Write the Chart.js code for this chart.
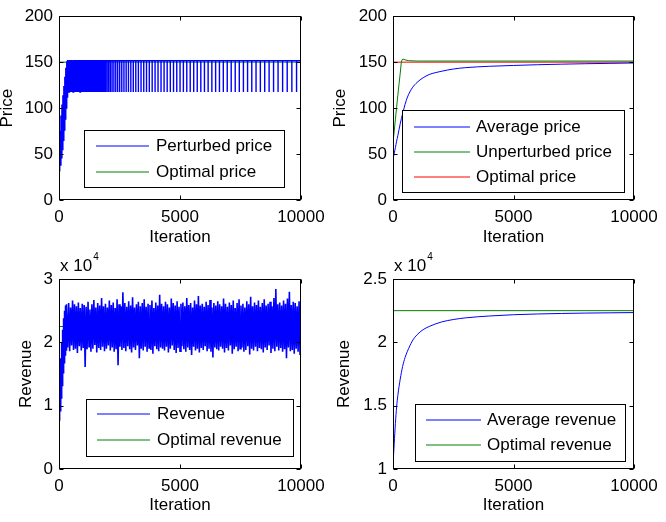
<!DOCTYPE html>
<html><head><meta charset="utf-8">
<script src="https://cdn.jsdelivr.net/npm/chart.js@4.4.0/dist/chart.umd.min.js"></script>
<style>
html,body{margin:0;padding:0;background:#fff;width:666px;height:522px;overflow:hidden}
canvas{position:absolute}
</style></head><body>
<canvas id="c1" width="333" height="261" style="left:0;top:0"></canvas>
<canvas id="c2" width="333" height="261" style="left:333px;top:0"></canvas>
<canvas id="c3" width="333" height="272" style="left:0;top:250px"></canvas>
<canvas id="c4" width="333" height="272" style="left:333px;top:250px"></canvas>
<script>
// ---------- tick labels ----------
const iterTicks=[0,5000,10000];
const iterTickLabels=['0','5000','10000'];
const priceTicks=[0,50,100,150,200];
const priceTickLabels=['0','50','100','150','200'];
const revATicks=[0,1,2,3];
const revATickLabels=['0','1','2','3'];
const revBTicks=[1,1.5,2,2.5];
const revBTickLabels=['1','1.5','2','2.5'];

// ---------- panel 1: perturbed price ----------
const ppRampIters=[0,40,80,120,160,200,240,280,320];
const ppRampUpper=[40,75,92,104,114,124,134,144,151];
const ppRampLower=[31,38,46,55,65,76,88,100,112];
const perturbedLevels=[151.5,117.5]; // base, perturbed
const spikeIters=[350,362,374,387,400,414,428,443,458,474,490,507,524,542,560,579,598,618,638,659,680,702,724,747,770,794,818,843,868,894,920,947,974,1002,1030,1059,1088,1118,1148,1179,1210,1242,1275,1309,1344,1380,1417,1455,1494,1534,1575,1618,1663,1710,1760,1813,1869,1928,1990,2055,2123,2194,2268,2345,2425,2508,2594,2683,2775,2870,2968,3069,3173,3280,3390,3502,3616,3732,3850,3970,4092,4216,4342,4470,4600,4732,4866,5002,5140,5280,5422,5566,5712,5860,6010,6162,6316,6472,6630,6790,6952,7116,7282,7450,7620,7792,7966,8142,8320,8500,8682,8866,9052,9240,9430,9622,9816];
const optimalPrice=[150];

// ---------- panel 2: average / unperturbed price ----------
const avgIters=[0,50,100,150,200,300,400,500,600,800,1000,1250,1500,2000,2500,3000,4000,5000,6000,7000,8000,9000,10000];
const avgPrice=[44,51,57,64,70,83,94,104,112,122,128,133,136.5,140,142.5,144,145.5,146.4,147.2,147.8,148.3,148.7,149.1];
const unpertIters=[0,50,100,150,200,250,300,345,380,420,500,650,1000,10000];
const unpertPrice=[63,75,88,101,114,126,138,150,152.8,153.3,152.5,151.6,151.2,151.2];

// ---------- panel 3: revenue (x 10^4) ----------
const revRampIters=[0,20,40,60,80,100,120,140,160,180,200,220,240,260,280,300];
const revRampHi=[0.95,1.2,1.4,1.6,1.75,1.9,2.0,2.1,2.2,2.3,2.38,2.45,2.5,2.55,2.58,2.6];
const revRampLo=[0.76,0.82,0.92,1.02,1.12,1.22,1.32,1.42,1.52,1.6,1.68,1.74,1.8,1.85,1.88,1.9];
const revBinStart=[320], revBinWidth=[80];
const revHi=[2.58,2.62,2.55,2.66,2.60,2.57,2.63,2.54,2.61,2.59,
2.56,2.64,2.52,2.60,2.67,2.55,2.62,2.58,2.70,2.57,
2.61,2.55,2.66,2.59,2.63,2.54,2.68,2.60,2.57,2.79,
2.62,2.56,2.65,2.58,2.71,2.55,2.60,2.64,2.57,2.62,
2.68,2.56,2.61,2.59,2.66,2.54,2.63,2.58,2.75,2.61,
2.57,2.64,2.60,2.55,2.69,2.62,2.58,2.65,2.56,2.61,
2.63,2.57,2.70,2.59,2.62,2.55,2.66,2.60,2.73,2.58,
2.61,2.56,2.64,2.59,2.67,2.55,2.62,2.58,2.65,2.60,
2.57,2.69,2.61,2.56,2.63,2.59,2.66,2.54,2.62,2.68,
2.58,2.61,2.55,2.65,2.60,2.72,2.57,2.63,2.59,2.66,
2.56,2.62,2.68,2.58,2.61,2.64,2.57,2.70,2.84,2.60,
2.63,2.58,2.66,2.61,2.69,2.80,2.59,2.64,2.62,2.57,2.65];
const revLo=[1.92,1.86,1.95,1.88,1.90,1.83,1.94,1.87,1.91,1.61,
1.89,1.93,1.85,1.90,1.96,1.84,1.91,1.88,1.93,1.86,
1.90,1.95,1.87,1.92,1.85,1.89,1.64,1.93,1.88,1.91,
1.86,1.94,1.89,1.84,1.92,1.88,1.95,1.75,1.90,1.87,
1.93,1.85,1.91,1.88,1.82,1.94,1.89,1.86,1.92,1.90,
1.87,1.93,1.84,1.90,1.95,1.88,1.83,1.91,1.86,1.94,
1.89,1.85,1.92,1.88,1.80,1.93,1.87,1.90,1.84,1.91,
1.88,1.94,1.86,1.90,1.85,1.76,1.92,1.89,1.87,1.93,
1.90,1.84,1.91,1.87,1.95,1.82,1.89,1.93,1.86,1.90,
1.92,1.85,1.88,1.94,1.81,1.90,1.87,1.93,1.86,1.91,
1.89,1.84,1.92,1.88,1.95,1.83,1.90,1.86,1.93,1.87,
1.91,1.85,1.89,1.75,1.92,1.86,1.88,1.82,1.90,1.85,1.80];
const optimalRevenue=[2.25];

// ---------- panel 4: average revenue (x 10^4) ----------
const avgRevenue=[1.03,1.2,1.36,1.49,1.58,1.71,1.81,1.88,1.93,2.01,2.06,2.1,2.125,2.16,2.18,2.193,2.208,2.218,2.224,2.228,2.231,2.233,2.235];

// ---------- colours ----------
const BLUE='#0000ff', GREEN='#008000', RED='#ff0000';
const FONT='"Liberation Sans", Arial, Helvetica, sans-serif';
Chart.defaults.font.family=FONT;
Chart.defaults.font.size=17;
Chart.defaults.color='#000';

// ---------- build point tables ----------
const pts=(xs,ys)=>xs.map((x,i)=>({x,y:ys[i]}));
const flat=(v)=>[{x:iterTicks[0],y:v},{x:iterTicks[iterTicks.length-1],y:v}];

const perturbedPts=[];
ppRampIters.forEach((it,i)=>{perturbedPts.push({x:it,y:ppRampUpper[i]},{x:it+20,y:ppRampLower[i]});});
spikeIters.forEach(s=>{perturbedPts.push({x:s-1,y:perturbedLevels[0]},{x:s,y:perturbedLevels[1]},{x:s+1,y:perturbedLevels[0]});});
perturbedPts.push({x:10000,y:perturbedLevels[0]});

const revenuePts=[];
revRampIters.forEach((it,i)=>{revenuePts.push({x:it,y:revRampHi[i]},{x:it+10,y:revRampLo[i]});});
revHi.forEach((h,i)=>{const x=revBinStart[0]+revBinWidth[0]*i; revenuePts.push({x,y:h},{x:x+revBinWidth[0]/2,y:revLo[i]});});

// ---------- plugins ----------
const legendCfg={
  c1:{box:[84,130,284,187],rows:[146,172],sx:[96,149],tx:156},
  c2:{box:[69,110,291,192],rows:[127,152,177],sx:[81,137],tx:143},
  c3:{box:[86,149,293,206],rows:[164,190],sx:[97,150],tx:157},
  c4:{box:[82,154,292,211],rows:[170,195],sx:[93,148],tx:154}
};
const expoCfg={c3:true,c4:true};

const boxLegend={id:'boxLegend',afterDatasetsDraw(chart){
  const o=legendCfg[chart.canvas.id]; if(!o) return;
  const ctx=chart.ctx; ctx.save();
  const [x0,y0,x1,y1]=o.box;
  ctx.fillStyle='#fff'; ctx.fillRect(x0,y0,x1-x0,y1-y0);
  ctx.strokeStyle='#000'; ctx.lineWidth=1; ctx.strokeRect(x0+0.5,y0+0.5,x1-x0,y1-y0);
  ctx.font='17px '+FONT; ctx.textBaseline='middle'; ctx.textAlign='left';
  chart.data.datasets.forEach((ds,i)=>{
    const y=o.rows[i];
    ctx.strokeStyle=ds.borderColor; ctx.lineWidth=1;
    ctx.beginPath(); ctx.moveTo(o.sx[0],y); ctx.lineTo(o.sx[1],y); ctx.stroke();
    ctx.fillStyle='#000'; ctx.fillText(ds.label,o.tx,y);
  });
  ctx.restore();
}};

const frame={id:'frame',afterDraw(chart){
  const ctx=chart.ctx,{left,right,top,bottom}=chart.chartArea;
  const L=Math.round(left)+0.5,R=Math.round(right)-0.5,T=Math.round(top)+0.5,B=Math.round(bottom)-0.5;
  ctx.save(); ctx.strokeStyle='#000'; ctx.lineWidth=1;
  ctx.strokeRect(L,T,R-L,B-T);
  const tl=4; ctx.beginPath();
  chart.scales.x.ticks.forEach(t=>{const p=Math.round(chart.scales.x.getPixelForValue(t.value))+0.5; ctx.moveTo(p,B); ctx.lineTo(p,B-tl); ctx.moveTo(p,T); ctx.lineTo(p,T+tl);});
  chart.scales.y.ticks.forEach(t=>{const p=Math.round(chart.scales.y.getPixelForValue(t.value))+0.5; ctx.moveTo(L,p); ctx.lineTo(L+tl,p); ctx.moveTo(R,p); ctx.lineTo(R-tl,p);});
  ctx.stroke();
  if(expoCfg[chart.canvas.id]){
    ctx.fillStyle='#000'; ctx.textAlign='left';
    ctx.font='17px '+FONT; ctx.textBaseline='middle';
    const x=Math.round(left)+1, s='x 10';
    ctx.fillText(s,x,16);
    const w=ctx.measureText(s).width;
    ctx.font='10px '+FONT; ctx.textBaseline='alphabetic';
    ctx.fillText('4',x+w+1,10);
  }
  ctx.restore();
}};

function makeChart(id,datasets,cfg){
  return new Chart(document.getElementById(id),{
    type:'line',
    data:{datasets},
    options:{
      responsive:false,animation:false,events:[],
      layout:{padding:{left:0,right:cfg.padR,top:cfg.padT,bottom:0}},
      elements:{point:{radius:0}},
      scales:{
        x:{type:'linear',min:0,max:10000,
          afterBuildTicks:s=>{s.ticks=iterTicks.map(v=>({value:v}));},
          afterFit:s=>{s.height=cfg.xH;},
          ticks:{padding:7,maxRotation:0,autoSkip:false,callback:v=>iterTickLabels[iterTicks.indexOf(v)]},
          grid:{display:false,drawTicks:false},border:{display:false},
          title:{display:true,text:'Iteration',font:{size:17,lineHeight:1},padding:{top:0,bottom:cfg.xTitlePad}}},
        y:{type:'linear',min:cfg.yMin,max:cfg.yMax,
          afterBuildTicks:s=>{s.ticks=cfg.yTicks.map(v=>({value:v}));},
          afterFit:s=>{s.width=cfg.yW;},
          ticks:{padding:6,autoSkip:false,callback:v=>cfg.yLabels[cfg.yTicks.indexOf(v)]},
          grid:{display:false,drawTicks:false},border:{display:false},
          title:{display:true,text:cfg.yTitle,font:{size:17,lineHeight:1},padding:{top:cfg.yTitlePad,bottom:0}}}
      },
      plugins:{legend:{display:false},tooltip:{enabled:false}}
    },
    plugins:[boxLegend,frame]
  });
}
const line=(label,data,color,extra)=>Object.assign({label,data,borderColor:color,backgroundColor:color,borderWidth:1,pointRadius:0,fill:false,tension:0},extra||{});

makeChart('c1',[
  line('Perturbed price',perturbedPts,BLUE,{borderWidth:1.4}),
  line('Optimal price',flat(optimalPrice[0]),GREEN)
],{padR:32,padT:10,xH:61,yW:59,yTitlePad:-1.5,xTitlePad:15,yMin:0,yMax:200,yTicks:priceTicks,yLabels:priceTickLabels,yTitle:'Price'});

makeChart('c2',[
  line('Average price',pts(avgIters,avgPrice),BLUE,{cubicInterpolationMode:'monotone'}),
  line('Unperturbed price',pts(unpertIters,unpertPrice),GREEN),
  line('Optimal price',flat(optimalPrice[0]),RED)
],{padR:32,padT:10,xH:61,yW:60,yTitlePad:-1.5,xTitlePad:15,yMin:0,yMax:200,yTicks:priceTicks,yLabels:priceTickLabels,yTitle:'Price'});

makeChart('c3',[
  line('Revenue',revenuePts,BLUE,{borderWidth:1.6}),
  line('Optimal revenue',flat(optimalRevenue[0]),GREEN)
],{padR:32,padT:29,xH:53,yW:59,yTitlePad:17.8,xTitlePad:7.7,yMin:0,yMax:3,yTicks:revATicks,yLabels:revATickLabels,yTitle:'Revenue'});

makeChart('c4',[
  line('Average revenue',pts(avgIters,avgRevenue),BLUE,{cubicInterpolationMode:'monotone'}),
  line('Optimal revenue',flat(optimalRevenue[0]),GREEN)
],{padR:32,padT:29,xH:53,yW:60,yTitlePad:3,xTitlePad:7.7,yMin:1,yMax:2.5,yTicks:revBTicks,yLabels:revBTickLabels,yTitle:'Revenue'});
</script>
</body></html>
